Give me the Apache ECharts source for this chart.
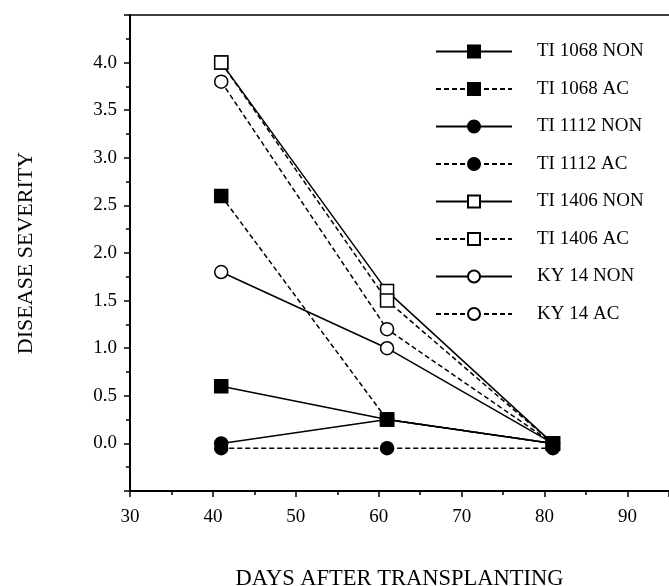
<!DOCTYPE html>
<html>
<head>
<meta charset="utf-8">
<script src="https://cdn.jsdelivr.net/npm/echarts@6/dist/echarts.min.js"></script>
<style>
  html, body { margin: 0; padding: 0; background: #fff; overflow: hidden; }
  #chart { width: 669px; height: 586px; }
</style>
</head>
<body>
<div id="chart"></div>
<script>
const days = [41, 61, 81];

const ti1068Non = [0.6, 0.25, 0];
const ti1068Ac = [2.6, 0.25, 0];
const ti1112Non = [0, 0.25, 0];
const ti1112Ac = [-0.05, -0.05, -0.05];
const ti1406Non = [4.0, 1.6, 0];
const ti1406Ac = [4.0, 1.5, 0];
const ky14Non = [1.8, 1.0, 0];
const ky14Ac = [3.8, 1.2, 0];

const font = '"Liberation Serif", "DejaVu Serif", serif';

// name, values, marker, filled, dashed, z
const lines = [
  ['TI 1068 NON', ti1068Non, 'rect', true, false, 5],
  ['TI 1068 AC', ti1068Ac, 'rect', true, true, 4],
  ['TI 1112 NON', ti1112Non, 'circle', true, false, 2],
  ['TI 1112 AC', ti1112Ac, 'circle', true, true, 2],
  ['TI 1406 NON', ti1406Non, 'rect', false, false, 3],
  ['TI 1406 AC', ti1406Ac, 'rect', false, true, 3],
  ['KY 14 NON', ky14Non, 'circle', false, false, 3],
  ['KY 14 AC', ky14Ac, 'circle', false, true, 3],
];

const chart = echarts.init(document.getElementById('chart'));

chart.setOption({
  animation: false,
  backgroundColor: '#fff',
  textStyle: { fontFamily: font },
  grid: { left: 130, right: 0, top: 15, bottom: 95, containLabel: false, outerBoundsMode: 'none' },
  legend: {
    orient: 'vertical',
    left: 430,
    top: 37,
    itemWidth: 76,
    itemHeight: 15,
    itemGap: 18.5,
    data: lines.map((l) => l[0]),
    textStyle: { fontFamily: font, fontSize: 19, color: '#000', padding: [0, 0, 0, 20] },
  },
  xAxis: [
    {
      type: 'value',
      min: 30,
      max: 95,
      interval: 10,
      name: 'DAYS AFTER TRANSPLANTING',
      nameLocation: 'middle',
      nameGap: 77,
      nameTextStyle: { fontFamily: font, fontSize: 22.5, color: '#000' },
      axisLine: { onZero: false, lineStyle: { color: '#000', width: 2 } },
      axisTick: { inside: false, length: 6, lineStyle: { color: '#000', width: 1.5 } },
      minorTick: { show: true, splitNumber: 2, length: 4, lineStyle: { color: '#000', width: 1.5 } },
      axisLabel: {
        fontFamily: font,
        fontSize: 19,
        color: '#000',
        margin: 17,
        formatter: (v) => (v > 90 ? '' : String(v)),
      },
      splitLine: { show: false },
    },
    {
      type: 'value',
      position: 'top',
      min: 30,
      max: 95,
      axisLine: { show: true, onZero: false, lineStyle: { color: '#000', width: 1.5 } },
      axisTick: { show: false },
      axisLabel: { show: false },
      splitLine: { show: false },
    },
  ],
  yAxis: {
    type: 'value',
    min: -0.5,
    max: 4.5,
    interval: 0.5,
    name: 'DISEASE SEVERITY',
    nameLocation: 'middle',
    nameGap: 93,
    nameRotate: 90,
    nameTextStyle: { fontFamily: font, fontSize: 22, color: '#000' },
    axisLine: { show: true, onZero: false, lineStyle: { color: '#000', width: 2 } },
    axisTick: { show: true, length: 6, lineStyle: { color: '#000', width: 1.5 } },
    minorTick: { show: true, splitNumber: 2, length: 4, lineStyle: { color: '#000', width: 1.5 } },
    axisLabel: {
      fontFamily: font,
      fontSize: 19,
      color: '#000',
      margin: 13,
      formatter: (v) => (v < 0 || v > 4.01 ? '' : v.toFixed(1)),
    },
    splitLine: { show: false },
  },
  series: lines.map(([name, values, marker, filled, dashed, z]) => ({
    name,
    type: 'line',
    z,
    data: days.map((d, i) => [d, values[i]]),
    symbol: marker,
    symbolSize: 13,
    showAllSymbol: true,
    lineStyle: { color: '#000', width: 1.5, type: dashed ? [5, 3] : 'solid' },
    itemStyle: {
      color: filled ? '#000' : '#fff',
      borderColor: '#000',
      borderWidth: 1.5,
    },
    emphasis: { disabled: true },
  })),
});
</script>
</body>
</html>
